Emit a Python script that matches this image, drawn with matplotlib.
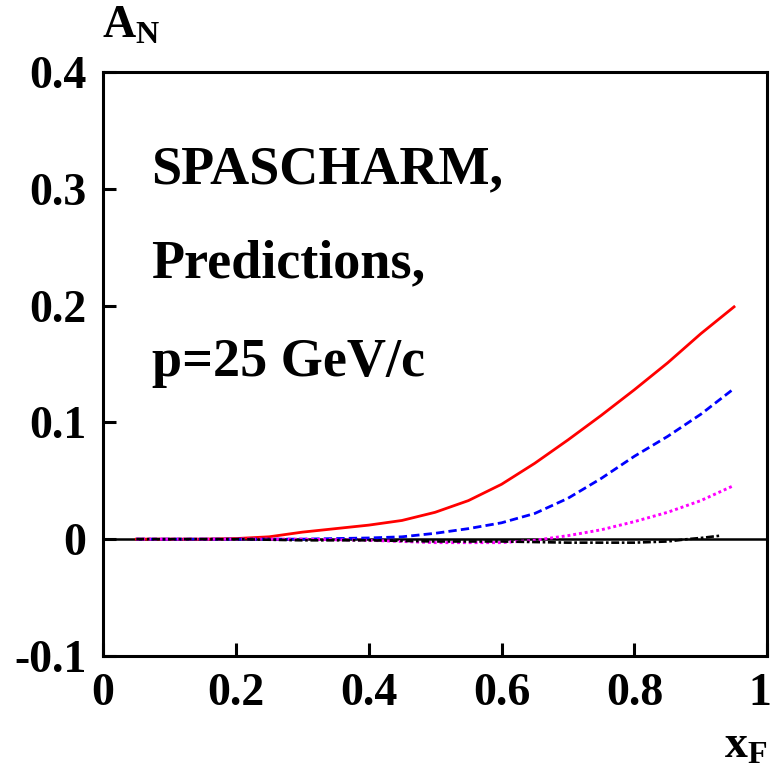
import matplotlib.pyplot as plt
import numpy as np
from matplotlib import rcParams
from matplotlib.transforms import ScaledTranslation

rcParams['font.family'] = 'Liberation Serif'
rcParams['font.weight'] = 'bold'
rcParams['mathtext.fontset'] = 'custom'
rcParams['mathtext.rm'] = 'Liberation Serif:bold'
rcParams['mathtext.bf'] = 'Liberation Serif:bold'

# Curves
x_red = [0.05, 0.10, 0.15, 0.20, 0.25, 0.30, 0.35, 0.40, 0.45, 0.50, 0.55, 0.60,
         0.65, 0.70, 0.75, 0.80, 0.85, 0.90, 0.95]
y_red = [0.0, 0.0, 0.0, 0.0005, 0.002, 0.006, 0.009, 0.012, 0.016, 0.023, 0.033,
         0.047, 0.065, 0.085, 0.106, 0.128, 0.151, 0.176, 0.199]

x_blue = [0.05, 0.10, 0.20, 0.30, 0.40, 0.45, 0.50, 0.55, 0.60, 0.65, 0.70,
          0.75, 0.80, 0.85, 0.90, 0.95]
y_blue = [0.0, 0.0, 0.0, 0.0, 0.001, 0.002, 0.005, 0.009, 0.014, 0.022, 0.035,
          0.052, 0.071, 0.088, 0.107, 0.129]

x_mag = [0.05, 0.10, 0.20, 0.30, 0.40, 0.45, 0.50, 0.55, 0.60, 0.65, 0.70,
         0.75, 0.80, 0.85, 0.90, 0.95]
y_mag = [0.0, 0.0, 0.0, 0.0, -0.001, -0.002, -0.003, -0.003, -0.003, -0.001,
         0.003, 0.008, 0.015, 0.023, 0.033, 0.046]

x_blk = [0.05, 0.10, 0.20, 0.30, 0.40, 0.50, 0.60, 0.70, 0.80, 0.85, 0.88, 0.90, 0.93]
y_blk = [0.0, 0.0, 0.0, -0.001, -0.001, -0.002, -0.002, -0.003, -0.003, -0.002,
         0.0, 0.001, 0.003]

x_ticks = [0, 0.2, 0.4, 0.6, 0.8, 1]
x_labels = ['0', '0.2', '0.4', '0.6', '0.8', '1']
y_ticks = [-0.1, 0, 0.1, 0.2, 0.3, 0.4]
y_labels = ['-0.1', '0', '0.1', '0.2', '0.3', '0.4']

fig = plt.figure(figsize=(7.75, 7.68), dpi=100)
ax = fig.add_axes([0.133, 0.146, 0.857, 0.760])

ax.axhline(0, color='black', lw=1.8, zorder=1)
ax.plot(x_red, y_red, color='red', lw=2.0, ls='-')
ax.plot(x_blue, y_blue, color='blue', lw=2.0, ls=(0, (3, 1.5)))
ax.plot(x_mag, y_mag, color='magenta', lw=2.1, ls=(0, (1, 1)))
ax.plot(x_blk, y_blk, color='black', lw=1.9, ls=(0, (3, 1, 1, 1)))

ax.set_xlim(0, 1)
ax.set_ylim(-0.1, 0.4)
ax.set_xticks(x_ticks)
ax.set_xticklabels(x_labels)
ax.set_yticks(y_ticks)
ax.set_yticklabels(y_labels)
ax.tick_params(direction='in', length=9.5, width=2.2, labelsize=33, pad=12)
ax.tick_params(axis='x', pad=12)
for side in ax.spines.values():
    side.set_linewidth(2.2)

# keep the last x label inside the figure, as in the original
last = ax.get_xticklabels()[-1]
last.set_transform(last.get_transform() + ScaledTranslation(-5 / 72, 0, fig.dpi_scale_trans))

ax.text(0.073, 0.316, 'SPASCHARM,', fontsize=39, fontweight='bold', va='center')
ax.text(0.073, 0.235, 'Predictions,', fontsize=39, fontweight='bold', va='center')
ax.text(0.073, 0.151, 'p=25 GeV/c', fontsize=39, fontweight='bold', va='center')

fig.text(0.132, 0.965, r'$\mathbf{A_N}$', fontsize=33, ha='left', va='center')
fig.text(0.934, 0.028, r'$\mathbf{x_F}$', fontsize=33, ha='left', va='center')

plt.savefig('out.png', dpi=100)
